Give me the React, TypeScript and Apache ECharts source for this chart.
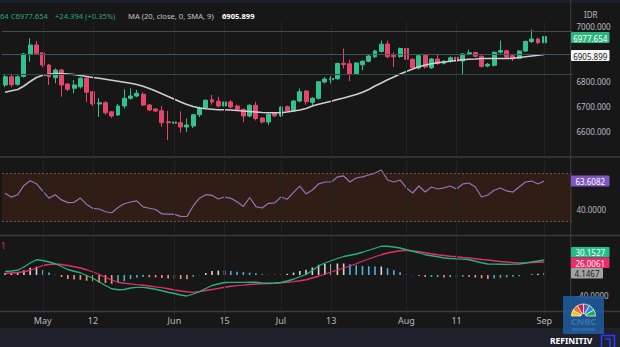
import React, { useEffect, useRef } from 'react';
import * as echarts from 'echarts';

const dates = [
  '2023-04-14','2023-04-17','2023-04-18','2023-04-26','2023-04-27','2023-04-28','2023-05-02','2023-05-03','2023-05-04','2023-05-05',
  '2023-05-08','2023-05-09','2023-05-10','2023-05-11','2023-05-12','2023-05-15','2023-05-16','2023-05-17','2023-05-19','2023-05-22',
  '2023-05-23','2023-05-24','2023-05-25','2023-05-26','2023-05-29','2023-05-30','2023-05-31','2023-06-05','2023-06-06','2023-06-07',
  '2023-06-08','2023-06-09','2023-06-12','2023-06-13','2023-06-14','2023-06-15','2023-06-16','2023-06-19','2023-06-20','2023-06-21',
  '2023-06-22','2023-06-23','2023-06-26','2023-06-27','2023-07-03','2023-07-04','2023-07-05','2023-07-06','2023-07-07','2023-07-10',
  '2023-07-11','2023-07-12','2023-07-13','2023-07-14','2023-07-17','2023-07-18','2023-07-20','2023-07-21','2023-07-24','2023-07-25',
  '2023-07-26','2023-07-27','2023-07-28','2023-07-31','2023-08-01','2023-08-02','2023-08-03','2023-08-04','2023-08-07','2023-08-08',
  '2023-08-09','2023-08-10','2023-08-11','2023-08-14','2023-08-15','2023-08-16','2023-08-18','2023-08-21','2023-08-22','2023-08-23',
  '2023-08-24','2023-08-25','2023-08-28','2023-08-29','2023-08-30','2023-08-31','2023-09-01'
];
const futureDates = ['2023-09-04', '2023-09-05', '2023-09-06', '2023-09-07'];

const opens = [
  6784,6817,6787,6818,6908,6944,6913,6864,6813,6844,
  6788,6771,6777,6811,6757,6708,6713,6677,6664,6700,
  6731,6740,6747,6704,6688,6681,6637,6631,6633,6616,
  6620,6665,6692,6725,6719,6700,6716,6700,6687,6660,
  6703,6652,6636,6670,6660,6697,6680,6720,6760,6715,
  6731,6796,6805,6809,6871,6869,6828,6865,6879,6897,
  6918,6948,6902,6898,6930,6887,6852,6902,6853,6888,
  6871,6878,6895,6880,6907,6914,6899,6860,6863,6915,
  6921,6901,6891,6920,6958,6968,6953
];
const closes = [
  6817,6785,6817,6908,6944,6911,6864,6817,6844,6784,
  6767,6784,6811,6755,6708,6713,6673,6660,6700,6731,
  6740,6751,6704,6684,6680,6633,6633,6636,6616,6624,
  6665,6692,6723,6716,6700,6716,6696,6687,6660,6703,
  6650,6636,6666,6661,6696,6680,6720,6757,6717,6731,
  6797,6808,6810,6870,6866,6826,6872,6879,6900,6920,
  6947,6897,6897,6930,6887,6853,6901,6856,6888,6870,
  6879,6893,6880,6908,6913,6899,6858,6867,6915,6922,
  6896,6889,6920,6958,6968,6953.26,6977.654
];
const lows = [
  6776,6775,6781,6814,6877,6904,6855,6784,6791,6737,
  6760,6751,6770,6717,6700,6657,6665,6652,6660,6690,
  6725,6735,6700,6680,6676,6617,6564,6595,6593,6596,
  6612,6656,6688,6705,6695,6690,6690,6680,6636,6655,
  6642,6630,6624,6655,6656,6676,6676,6715,6705,6700,
  6726,6790,6790,6805,6850,6800,6824,6843,6875,6892,
  6914,6892,6856,6893,6882,6848,6846,6850,6848,6864,
  6866,6874,6876,6828,6903,6895,6854,6855,6858,6911,
  6892,6880,6887,6916,6952,6947,6949
];
const highs = [
  6824,6826,6822,6912,6971,6960,6916,6868,6850,6848,
  6791,6804,6815,6814,6760,6731,6720,6680,6708,6767,
  6771,6764,6755,6708,6692,6700,6680,6664,6679,6650,
  6668,6698,6727,6744,6737,6720,6724,6706,6690,6707,
  6717,6656,6670,6676,6700,6702,6724,6770,6764,6735,
  6800,6815,6820,6874,6930,6885,6876,6884,6904,6925,
  6962,6962,6915,6934,6934,6891,6905,6908,6892,6905,
  6884,6898,6900,6912,6925,6918,6903,6872,6918,6962,
  6925,6905,6924,6962,7006,6973,6993
];
const maValues = [
  6755,6761,6766,6780,6798,6814,6823,6827,6830,6830,
  6828,6826,6822,6818,6814,6811,6807,6803,6799,6795,
  6791,6786,6779,6770,6760,6749,6738,6727,6716,6706,
  6698,6692,6689,6687,6685,6685,6684,6682,6680,6678,
  6676,6674,6673,6673,6673,6676,6680,6684,6690,6700,
  6707,6713,6719,6726,6732,6739,6746,6755,6766,6780,
  6792,6805,6816,6828,6838,6848,6857,6864,6869,6873,
  6876,6879,6882,6885,6887,6888,6890,6890,6890,6890,
  6890,6891,6894,6897,6900,6903,6905.899
];
const rsiValues = [
  53.5,50.3,52.3,60,63.8,61.3,55.2,49.5,52.2,48,
  45.8,46,49.5,44.3,41,40.5,38.2,37.4,41.7,44.8,
  46.3,47.2,42.3,41.1,40.1,36.4,36.3,36,34.4,34.3,
  43,49.4,52.3,51.8,48.8,50.4,49.3,46.4,42.6,50,
  42.5,41.3,45.2,45.6,50.4,48.6,54.2,59.4,52.9,56.2,
  61.2,62.8,62.8,67,67.8,62.8,66.1,67,68.6,70.2,
  72.7,64.5,62.8,64.5,57.9,53.7,59.5,54.5,58.7,57,
  57.9,59.5,57,61.2,62,58.7,50.4,52.1,56,57.9,
  55.4,54.5,58.7,62.8,63.6,61.2,63.6082
];
const macdValues = [
  7,8,9.5,16,24,30.5,29,26,22.5,17,
  11,7.5,4.5,-1,-6.5,-14,-21,-27.5,-29.5,-29,
  -26,-24.7,-24.7,-26.5,-28.5,-31.5,-34.5,-37,-40,-42,
  -38,-33.5,-27,-21,-18,-15,-14.7,-14.7,-14.7,-14.2,
  -14.5,-15.8,-16.5,-16,-15,-12,-8.5,-3.5,1,9,
  18,24,28.5,33,37,39.5,42,45.5,49.5,53.5,
  57.5,57.5,56,54,50.5,47.5,44.5,40.5,38.5,36.5,
  34,33,32.3,31.7,30.5,27.5,24.5,22,21.7,21.5,
  21.3,21.6,22,24,26.3,28,30.1527
];
const signalValues = [
  3,4,5,6.5,9.5,14,19,21,22,21,
  19,16.5,14,10.5,6,1.5,-5,-10,-14.5,-16.5,
  -17.7,-19.3,-20.5,-22,-23.7,-25.3,-27.5,-30,-32,-33.5,
  -34.7,-33,-31,-29,-26.8,-24.5,-22.5,-21.3,-20.3,-19,
  -18,-17.5,-17,-16.5,-15.5,-14.5,-13.3,-11.5,-9.5,-6,
  -2.5,2,6,10,14,18,22.5,27.5,32,36.5,
  40.5,44,46.5,48.5,49.5,48,46.5,44.5,42.5,40.5,
  39,37.5,36.5,35,34,32.5,31,30,28.5,27,
  26,25,24.3,24.3,25,25.5,26.0061
];
const histValues = [
  4,4,4.5,9.5,14.5,16.5,10,5,0.5,-4,
  -8,-9,-9.5,-11.5,-12.5,-15.5,-16,-17.5,-15,-12.5,
  -8.3,-5.4,-4.2,-4.5,-4.8,-6.2,-7,-7,-8,-8.5,
  -3.3,-0.5,4,8,8.8,9.5,7.8,6.6,5.6,4.8,
  3.5,1.7,0.5,0.5,0.5,2.5,4.8,8,10.5,15,
  20.5,22,22.5,23,23,21.5,19.5,18,17.5,17,
  17,13.5,9.5,5.5,1,-0.5,-2,-4,-4,-4,
  -5,-4.5,-4.2,-3.3,-3.5,-5,-6.5,-8,-6.8,-5.5,
  -4.7,-3.4,-2.3,-0.3,1.3,2.5,4.1467
];

const tickIndex = [6, 14, 27, 35, 44, 52, 64, 72, 86];
const tickLabels = ['May', '12', 'Jun', '15', 'Jul', '13', 'Aug', '11', 'Sep'];
const priceLabelValues = [6600, 6700, 6800, 7000];
const priceLabelRaised = [7000];
const rsiLabelValues = [40];
const macdLabelValues = [-40];
const rsiBand = [30, 70];
const priceLines = [7000, 6908, 6829];
const priceChange = '+24.394 (+0.35%)';

const FONT = '"Noto Sans", "DejaVu Sans", sans-serif';
const AXIS_TXT = '#b7bac2';
const UP = '#33c28c';
const DOWN = '#e4476a';

function txt(text: string, x: number, y: number, fill: string, font: string, align = 'left') {
  return {
    type: 'text',
    z: 100,
    style: { text, x, y, fill, font, align, textAlign: align, verticalAlign: 'middle', textVerticalAlign: 'middle' },
  };
}
function box(x: number, y: number, w: number, h: number, fill: string, text: string, color: string) {
  return [
    { type: 'rect', z: 100, shape: { x, y, width: w, height: h, r: 1 }, style: { fill } },
    txt(text, x + w / 2, y + h / 2 + 0.5, color, `8px ${FONT}`, 'center'),
  ];
}

export default function App() {
  const ref = useRef<HTMLDivElement>(null);
  useEffect(() => {
    const chart = echarts.init(ref.current as HTMLDivElement, null, { renderer: 'svg' });
    const categories = [...dates, ...futureDates];
    const candleData = opens.map((o, i) => [o, closes[i], lows[i], highs[i]]);
    const labelMap = new Map<number, string>(tickIndex.map((idx, k) => [idx, tickLabels[k]]));
    const vLines = tickIndex.map((idx) => ({
      xAxis: categories[idx],
      lineStyle: { color: '#232323', width: 1, type: 'solid' },
    }));

    const xAxisBase = (gridIndex: number, showLabels: boolean) => ({
      type: 'category',
      gridIndex,
      data: categories,
      boundaryGap: true,
      axisLine: { show: false },
      axisTick: { show: false },
      splitLine: { show: false },
      axisLabel: showLabels
        ? {
            show: true,
            interval: (idx: number) => labelMap.has(idx),
            formatter: (_v: string, idx: number) => labelMap.get(idx) || '',
            color: AXIS_TXT,
            fontSize: 9,
            fontFamily: FONT,
            margin: 1,
          }
        : { show: false },
    });

    const yLabel = (values: number[], digits: number) => ({
      show: true,
      color: AXIS_TXT,
      fontSize: 8,
      fontFamily: FONT,
      margin: 4,
      formatter: (v: number) => {
        const r = Math.round(v * 1000) / 1000;
        if (values.indexOf(r) < 0) return '';
        return priceLabelRaised.indexOf(r) >= 0 ? `{up|${v.toFixed(digits)}}` : v.toFixed(digits);
      },
      rich: { up: { color: AXIS_TXT, fontSize: 8, fontFamily: FONT, padding: [0, 0, 10, 0] } },
    });

    const histColor = (params: any) => {
      const i = params.dataIndex;
      const v = histValues[i];
      const prev = i > 0 ? histValues[i - 1] : v;
      if (v >= 0) return v >= prev ? '#ded5ca' : '#4fb0e3';
      return v < prev ? '#ef957c' : '#3db7bd';
    };

    const lastClose = closes[closes.length - 1];
    const lastMa = maValues[maValues.length - 1];

    const option: any = {
      animation: false,
      backgroundColor: '#171717',
      grid: [
        { left: 2, right: 47.5, top: 22, height: 134 },
        { left: 2, right: 47.5, top: 161.2, height: 72.6 },
        { left: 2, right: 47.5, top: 235, height: 80 },
      ],
      xAxis: [xAxisBase(0, false), xAxisBase(1, false), xAxisBase(2, true)],
      yAxis: [
        {
          type: 'value', gridIndex: 0, position: 'right', min: 6500, max: 7036, interval: 100,
          axisLine: { show: false }, axisTick: { show: false }, splitLine: { show: false },
          axisLabel: yLabel(priceLabelValues, 3),
        },
        {
          type: 'value', gridIndex: 1, position: 'right', min: 20, max: 80, interval: 20,
          axisLine: { show: false }, axisTick: { show: false }, splitLine: { show: false },
          axisLabel: yLabel(rsiLabelValues, 4),
        },
        {
          type: 'value', gridIndex: 2, position: 'right', min: -80, max: 80, interval: 40,
          axisLine: { show: false }, axisTick: { show: false }, splitLine: { show: false },
          axisLabel: yLabel(macdLabelValues, 4),
        },
      ],
      series: [
        {
          type: 'candlestick',
          xAxisIndex: 0, yAxisIndex: 0,
          data: candleData,
          barWidth: 4.4,
          itemStyle: { color: UP, color0: DOWN, borderColor: UP, borderColor0: DOWN, borderWidth: 1 },
          z: 3,
        },
        {
          type: 'line',
          xAxisIndex: 0, yAxisIndex: 0,
          data: maValues,
          symbol: 'none',
          lineStyle: { color: '#cfcfcf', width: 1.6 },
          z: 4,
          markLine: {
            silent: true, symbol: ['none', 'none'], label: { show: false },
            data: [
              ...vLines,
              { yAxis: priceLines[0], lineStyle: { color: '#4a4a4a', width: 1, type: 'solid' } },
              { yAxis: priceLines[1], lineStyle: { color: '#3e5568', width: 1, type: 'solid' } },
              { yAxis: priceLines[2], lineStyle: { color: '#2c4a47', width: 1, type: 'solid' } },
            ],
          },
        },
        {
          type: 'line',
          xAxisIndex: 1, yAxisIndex: 1,
          data: rsiValues,
          symbol: 'none',
          lineStyle: { color: '#9575b6', width: 1.2 },
          z: 4,
          markArea: {
            silent: true,
            itemStyle: { color: '#2f1d16' },
            data: [[{ yAxis: rsiBand[0] }, { yAxis: rsiBand[1] }]],
          },
          markLine: {
            silent: true, symbol: ['none', 'none'], label: { show: false },
            data: [
              ...vLines,
              { yAxis: rsiBand[0], lineStyle: { color: '#6a5646', width: 1, type: [2, 2] } },
              { yAxis: rsiBand[1], lineStyle: { color: '#6a5646', width: 1, type: [2, 2] } },
            ],
          },
        },
        {
          type: 'bar',
          xAxisIndex: 2, yAxisIndex: 2,
          data: histValues,
          barWidth: 1.6,
          itemStyle: { color: histColor },
          z: 2,
        },
        {
          type: 'line',
          xAxisIndex: 2, yAxisIndex: 2,
          data: signalValues,
          symbol: 'none',
          lineStyle: { color: '#e0306a', width: 1.3 },
          z: 4,
          markLine: {
            silent: true, symbol: ['none', 'none'], label: { show: false },
            data: vLines,
          },
        },
        {
          type: 'line',
          xAxisIndex: 2, yAxisIndex: 2,
          data: macdValues,
          symbol: 'none',
          lineStyle: { color: '#22b47c', width: 1.3 },
          z: 5,
        },
      ],
      graphic: [
        { type: 'rect', z: 90, shape: { x: 0, y: 0, width: 620, height: 3 }, style: { fill: '#1b1f2b' } },
        { type: 'rect', z: 90, shape: { x: 0, y: 328, width: 620, height: 19 }, style: { fill: '#1e212c' } },
        { type: 'line', z: 95, shape: { x1: 0, y1: 157, x2: 620, y2: 157 }, style: { stroke: '#3c3c3c', lineWidth: 1.5 } },
        { type: 'line', z: 95, shape: { x1: 0, y1: 235.5, x2: 620, y2: 235.5 }, style: { stroke: '#3c3c3c', lineWidth: 1.5 } },
        { type: 'line', z: 95, shape: { x1: 0, y1: 311.5, x2: 620, y2: 311.5 }, style: { stroke: '#3c3c3c', lineWidth: 1.5 } },
        { type: 'line', z: 95, shape: { x1: 570.7, y1: 0, x2: 570.7, y2: 328 }, style: { stroke: '#3f3f3f', lineWidth: 1 } },
        txt('64 C' + lastClose.toFixed(3), 0, 16, '#2fa57c', `7.6px ${FONT}`),
        txt(priceChange, 55, 16, '#2fa57c', `7.6px ${FONT}`),
        txt('MA (20, close, 0, SMA, 9)', 128, 16, '#c4c6cc', `7.6px ${FONT}`),
        txt(lastMa.toFixed(3), 222, 16, '#ffffff', `bold 7.6px ${FONT}`),
        txt('IDR', 584, 14, AXIS_TXT, `8px ${FONT}`),
        txt('1', 1, 245, '#e0306a', `8px ${FONT}`),
        ...box(571, 32, 38.5, 11, '#2bb67e', lastClose.toFixed(3), '#ffffff'),
        ...box(571, 50, 38.5, 11, '#f4f4f4', lastMa.toFixed(3), '#1a1a1a'),
        ...box(571, 175.5, 38.5, 11, '#7e57c2', rsiValues[rsiValues.length - 1].toFixed(4), '#ffffff'),
        ...box(571, 247, 38.5, 10.5, '#1fbf88', macdValues[macdValues.length - 1].toFixed(4), '#ffffff'),
        ...box(571, 257.5, 38.5, 10.5, '#ee2a68', signalValues[signalValues.length - 1].toFixed(4), '#ffffff'),
        ...box(571, 268, 32, 10.5, '#a3a3a3', histValues[histValues.length - 1].toFixed(4), '#1e1e1e'),
        // CNBC logo
        { type: 'rect', z: 110, shape: { x: 563, y: 296, width: 41, height: 38 }, style: { fill: '#1f5c9e', opacity: 0.88 } },
        ...['#f7c413', '#f2701f', '#d21f4e', '#6a5aa8', '#1a8fd6', '#16ad52'].map((c, k) => ({
          type: 'sector', z: 111,
          shape: { cx: 583.5, cy: 316, r: 12, r0: 2.5, startAngle: Math.PI + (k * Math.PI) / 6, endAngle: Math.PI + ((k + 1) * Math.PI) / 6 },
          style: { fill: c, stroke: '#ffffff', lineWidth: 0.7 },
        })),
        txt('CNBC', 583.5, 321, '#ffffff', `bold 9px ${FONT}`, 'center'),
        txt('INDONESIA', 583.5, 329.5, '#ffffff', `bold 4px ${FONT}`, 'center'),
        txt('REFINITIV', 550, 340, '#ffffff', `bold 8.5px ${FONT}`),
        { type: 'rect', z: 110, shape: { x: 601.5, y: 335.5, width: 13, height: 13 }, style: { fill: 'none', stroke: '#2a3cff', lineWidth: 1.5 } },
        { type: 'polyline', z: 110, shape: { points: [[605, 339], [610, 339], [610, 347]] }, style: { fill: 'none', stroke: '#2a3cff', lineWidth: 1.5 } },
      ],
    };

    chart.setOption(option);
    return () => chart.dispose();
  }, []);

  return <div ref={ref} style={{ position: 'fixed', left: 0, top: 0, width: 620, height: 347 }} />;
}
